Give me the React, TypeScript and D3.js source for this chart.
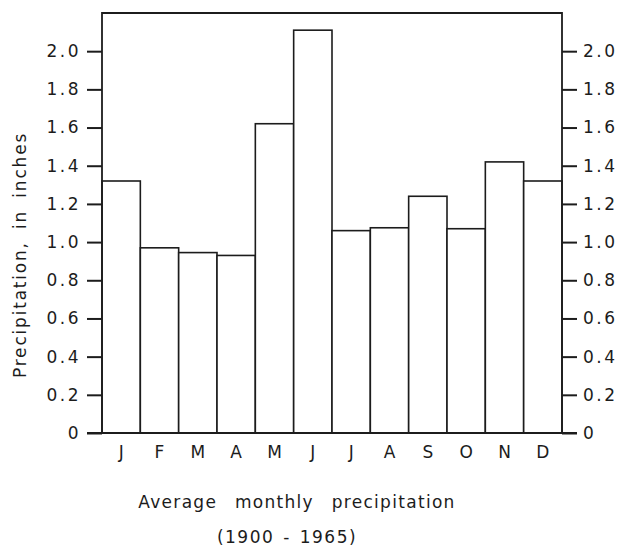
import React, { useEffect, useRef } from 'react';
import * as d3 from 'd3';

const months = ['J', 'F', 'M', 'A', 'M', 'J', 'J', 'A', 'S', 'O', 'N', 'D'];
const precip = [1.32, 0.97, 0.945, 0.93, 1.62, 2.11, 1.06, 1.075, 1.24, 1.07, 1.42, 1.32];
const yTicks = [0, 0.2, 0.4, 0.6, 0.8, 1.0, 1.2, 1.4, 1.6, 1.8, 2.0];

function App() {
  const ref = useRef<SVGSVGElement>(null);

  useEffect(() => {
    const svg = d3.select(ref.current);
    svg.selectAll('*').remove();

    const width = 617;
    const height = 549;
    const margin = { top: 13, right: 55, bottom: 116, left: 102 };
    const ink = '#1c1c1c';
    const font = "'DejaVu Sans', sans-serif";

    const x = d3
      .scaleBand()
      .domain(d3.range(months.length).map(String))
      .range([margin.left, width - margin.right])
      .padding(0);

    const y = d3
      .scaleLinear()
      .domain([0, 2.2])
      .range([height - margin.bottom, margin.top]);

    const g = svg.append('g');

    // bars
    g.selectAll('rect.bar')
      .data(precip)
      .join('rect')
      .attr('class', 'bar')
      .attr('x', (_, i) => x(String(i))!)
      .attr('y', (d) => y(d))
      .attr('width', x.bandwidth())
      .attr('height', (d) => y(0) - y(d))
      .attr('fill', 'white')
      .attr('stroke', ink)
      .attr('stroke-width', 1.6);

    // frame (top, left, right)
    g.append('path')
      .attr(
        'd',
        `M${margin.left},${y(0)}V${margin.top}H${width - margin.right}V${y(0)}`
      )
      .attr('fill', 'none')
      .attr('stroke', ink)
      .attr('stroke-width', 1.8);

    const fmt = (d: d3.NumberValue) => (d === 0 ? '0' : d3.format('.1f')(d as number));

    // left axis
    const left = g
      .append('g')
      .attr('transform', `translate(${margin.left},0)`)
      .call(d3.axisLeft(y).tickValues(yTicks).tickSize(15).tickPadding(6).tickFormat(fmt));
    left.select('.domain').remove();

    // right axis
    const right = g
      .append('g')
      .attr('transform', `translate(${width - margin.right},0)`)
      .call(d3.axisRight(y).tickValues(yTicks).tickSize(15).tickPadding(6).tickFormat(fmt));
    right.select('.domain').remove();

    [left, right].forEach((a) => {
      a.selectAll('.tick line').attr('stroke', ink).attr('stroke-width', 2);
      a.selectAll('.tick text')
        .attr('fill', ink)
        .style('font-family', font)
        .style('font-size', '17px')
        .style('letter-spacing', '2.5px');
    });

    // baseline
    g.append('line')
      .attr('x1', margin.left - 15)
      .attr('x2', width - margin.right + 15)
      .attr('y1', y(0))
      .attr('y2', y(0))
      .attr('stroke', ink)
      .attr('stroke-width', 2);

    // month labels
    g.selectAll('text.month')
      .data(months)
      .join('text')
      .attr('class', 'month')
      .attr('x', (_, i) => x(String(i))! + x.bandwidth() / 2)
      .attr('y', y(0) + 25)
      .attr('text-anchor', 'middle')
      .attr('fill', ink)
      .style('font-family', font)
      .style('font-size', '17px')
      .text((d) => d);

    // y label
    g.append('text')
      .attr('transform', `translate(26,255) rotate(-90)`)
      .attr('text-anchor', 'middle')
      .attr('fill', ink)
      .style('font-family', font)
      .style('font-size', '17px')
      .style('letter-spacing', '1.8px')
      .style('word-spacing', '5px')
      .text('Precipitation, in inches');

    // captions
    g.append('text')
      .attr('x', 297)
      .attr('y', 508)
      .attr('text-anchor', 'middle')
      .attr('fill', ink)
      .style('font-family', font)
      .style('font-size', '17px')
      .style('letter-spacing', '1.3px')
      .style('word-spacing', '11px')
      .text('Average monthly precipitation');

    g.append('text')
      .attr('x', 287)
      .attr('y', 543)
      .attr('text-anchor', 'middle')
      .attr('fill', ink)
      .style('font-family', font)
      .style('font-size', '17px')
      .style('letter-spacing', '1.5px')
      .style('word-spacing', '2px')
      .text('(1900 - 1965)');
  }, []);

  return (
    <svg
      ref={ref}
      width={617}
      height={549}
      style={{ position: 'absolute', left: 0, top: 0, background: 'white' }}
    ></svg>
  );
}

export default App;
